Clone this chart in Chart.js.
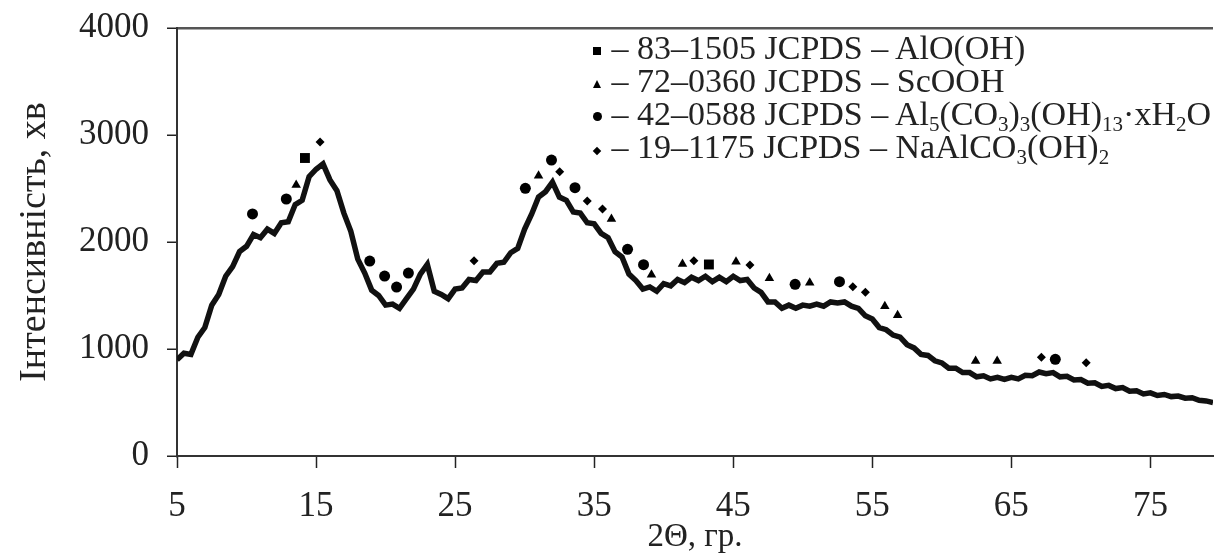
<!DOCTYPE html>
<html>
<head>
<meta charset="utf-8">
<script src="https://cdn.jsdelivr.net/npm/chart.js@4.4.1/dist/chart.umd.min.js"></script>
<style>
  body { margin: 0; background: #fff; }
  #wrap { position: relative; width: 1220px; height: 557px; }
  #legend {
    position: absolute; left: 591px; top: 31px;
    font-family: "Liberation Serif", serif; font-size: 34px; color: #222;
    line-height: 33px;
  }
  #legend .row { white-space: nowrap; height: 33px; }
  #legend .mk { display: inline-block; width: 12px; text-align: center; vertical-align: middle; position: relative; top: -8px; }
  #legend sub { font-size: 21px; vertical-align: -6px; line-height: 0; }
  .sq { display: inline-block; width: 8px; height: 8px; background: #000; }
  .ci { display: inline-block; width: 9px; height: 9px; border-radius: 50%; background: #000; }
  .tr { display: inline-block; width: 0; height: 0; border-left: 4px solid transparent; border-right: 4px solid transparent; border-bottom: 8px solid #000; }
  .di { display: inline-block; width: 6px; height: 6px; background: #000; transform: rotate(45deg); }
</style>
</head>
<body>
<div id="wrap">
  <canvas id="xrd"></canvas>
  <div id="legend"></div>
</div>
<script>
// XRD pattern: angle 2θ (deg) and intensity (counts)
const angles = [5,5.5,6,6.5,7,7.5,8,8.5,9,9.5,10,10.5,11,11.5,12,12.5,13,13.5,14,14.5,
  15,15.5,16,16.5,17,17.5,18,18.5,19,19.5,20,20.5,21,21.5,22,22.5,23,23.5,24,24.5,
  25,25.5,26,26.5,27,27.5,28,28.5,29,29.5,30,30.5,31,31.5,32,32.5,33,33.5,34,34.5,
  35,35.5,36,36.5,37,37.5,38,38.5,39,39.5,40,40.5,41,41.5,42,42.5,43,43.5,44,44.5,
  45,45.5,46,46.5,47,47.5,48,48.5,49,49.5,50,50.5,51,51.5,52,52.5,53,53.5,54,54.5,
  55,55.5,56,56.5,57,57.5,58,58.5,59,59.5,60,60.5,61,61.5,62,62.5,63,63.5,64,64.5,
  65,65.5,66,66.5,67,67.5,68,68.5,69,69.5,70,70.5,71,71.5,72,72.5,73,73.5,74,74.5,
  75,75.5,76,76.5,77,77.5,78,78.5,79,79.5];
const intensity = [900,960,950,1110,1200,1410,1510,1680,1770,1910,1960,2070,2040,2120,2080,2180,2190,2350,2390,2610,
  2680,2730,2580,2480,2270,2100,1840,1710,1550,1500,1410,1420,1380,1470,1560,1700,1790,1540,1510,1470,
  1560,1570,1650,1640,1720,1720,1800,1810,1900,1940,2120,2260,2420,2470,2560,2420,2390,2280,2270,2180,
  2170,2080,2040,1910,1860,1700,1640,1560,1580,1540,1610,1590,1650,1620,1670,1640,1680,1630,1670,1630,
  1680,1640,1650,1570,1530,1440,1440,1380,1410,1380,1410,1400,1420,1400,1440,1430,1440,1400,1380,1310,
  1280,1200,1180,1130,1110,1040,1010,950,940,890,870,820,820,780,780,740,750,720,735,715,
  735,720,755,750,785,770,780,740,745,710,715,680,685,650,660,630,640,605,610,580,
  590,565,575,555,560,540,545,520,515,500];

// reference phase markers [2θ, intensity]
const alooh = [[14.2,2785],[43.25,1790]];
const scooh = [[13.57,2533],[31.0,2620],[36.24,2215],[39.12,1695],[41.35,1795],[45.2,1816],
  [47.6,1661],[50.5,1620],[55.9,1400],[56.82,1315],[62.43,888],[63.98,888]];
const alCarb = [[10.43,2262],[12.86,2402],[18.86,1822],[19.93,1682],[20.79,1579],[21.64,1710],
  [30.05,2502],[31.93,2766],[33.62,2508],[37.4,1932],[38.55,1788],[49.45,1605],[52.64,1629],[68.16,904]];
const naAlCarb = [[15.29,2935],[26.36,1825],[32.52,2657],[34.5,2383],[35.6,2308],[42.17,1825],
  [46.2,1785],[53.6,1582],[54.5,1530],[67.16,922],[70.38,872]];

const xTicks = [5,15,25,35,45,55,65,75];
const yTicks = [0,1000,2000,3000,4000];

const legendMarks = ['sq','tr','ci','di'];
const legendText = [
  '83–1505 JCPDS – AlO(OH)',
  '72–0360 JCPDS – ScOOH',
  '42–0588 JCPDS – Al<sub>5</sub>(CO<sub>3</sub>)<sub>3</sub>(OH)<sub>13</sub>·xH<sub>2</sub>O',
  '19–1175 JCPDS – NaAlCO<sub>3</sub>(OH)<sub>2</sub>'
];

const toPts = arr => arr.map(p => ({x: p[0], y: p[1]}));
const font = "'Liberation Serif', 'Times New Roman', serif";

function markerSet(pts, style, r) {
  return {
    type: 'scatter', data: toPts(pts), showLine: false,
    pointStyle: style, pointRadius: r, pointHoverRadius: r,
    backgroundColor: '#000', borderColor: '#000', borderWidth: 0
  };
}

new Chart(document.getElementById('xrd'), {
  type: 'line',
  data: {
    datasets: [
      {
        data: angles.map((a, i) => ({x: a, y: intensity[i]})),
        borderColor: '#111', borderWidth: 5.5, pointRadius: 0, tension: 0
      },
      markerSet(alooh, 'rect', 7),
      markerSet(scooh, 'triangle', 5.5),
      markerSet(alCarb, 'circle', 5.5),
      markerSet(naAlCarb, 'rectRot', 4.5)
    ]
  },
  options: {
    responsive: true,
    maintainAspectRatio: false,
    animation: false,
    layout: { padding: { top: 28, right: 0, left: 0, bottom: 0 } },
    plugins: { legend: { display: false }, tooltip: { enabled: false } },
    scales: {
      x: {
        type: 'linear', min: 5, max: 79.5,
        afterBuildTicks: s => { s.ticks = xTicks.map(v => ({value: v})); },
        afterFit: s => { s.height = 101; s.paddingRight = 0; },
        border: { color: '#333', width: 2 },
        grid: { display: true, color: 'transparent', tickColor: '#222', tickLength: 12, tickWidth: 1.5 },
        ticks: { color: '#222', padding: 18, font: { family: font, size: 35 }, callback: v => String(v) },
        title: { display: true, text: '2Θ, гр.', color: '#222', padding: { top: 0, bottom: 0 }, font: { family: font, size: 33 } }
      },
      y: {
        min: 0, max: 4000,
        afterBuildTicks: s => { s.ticks = yTicks.map(v => ({value: v})); },
        afterFit: s => { s.width = 177; s.paddingTop = 0; s.paddingBottom = 0; },
        border: { color: '#333', width: 2 },
        grid: {
          color: c => c.tick && c.tick.value === 4000 ? '#555' : 'transparent',
          lineWidth: 2.5, tickColor: '#222', tickLength: 10, tickWidth: 1.5
        },
        ticks: { color: '#222', padding: 18, font: { family: font, size: 35 }, callback: v => String(v) },
        title: { display: true, text: 'Інтенсивність, хв', color: '#222', padding: { top: 12, bottom: 0 }, font: { family: font, size: 38 } }
      }
    }
  }
});

const legend = document.getElementById('legend');
legendText.forEach((t, i) => {
  const row = document.createElement('div');
  row.className = 'row';
  row.innerHTML = '<span class="mk"><span class="' + legendMarks[i] + '"></span></span> – ' + t;
  legend.appendChild(row);
});
</script>
</body>
</html>
